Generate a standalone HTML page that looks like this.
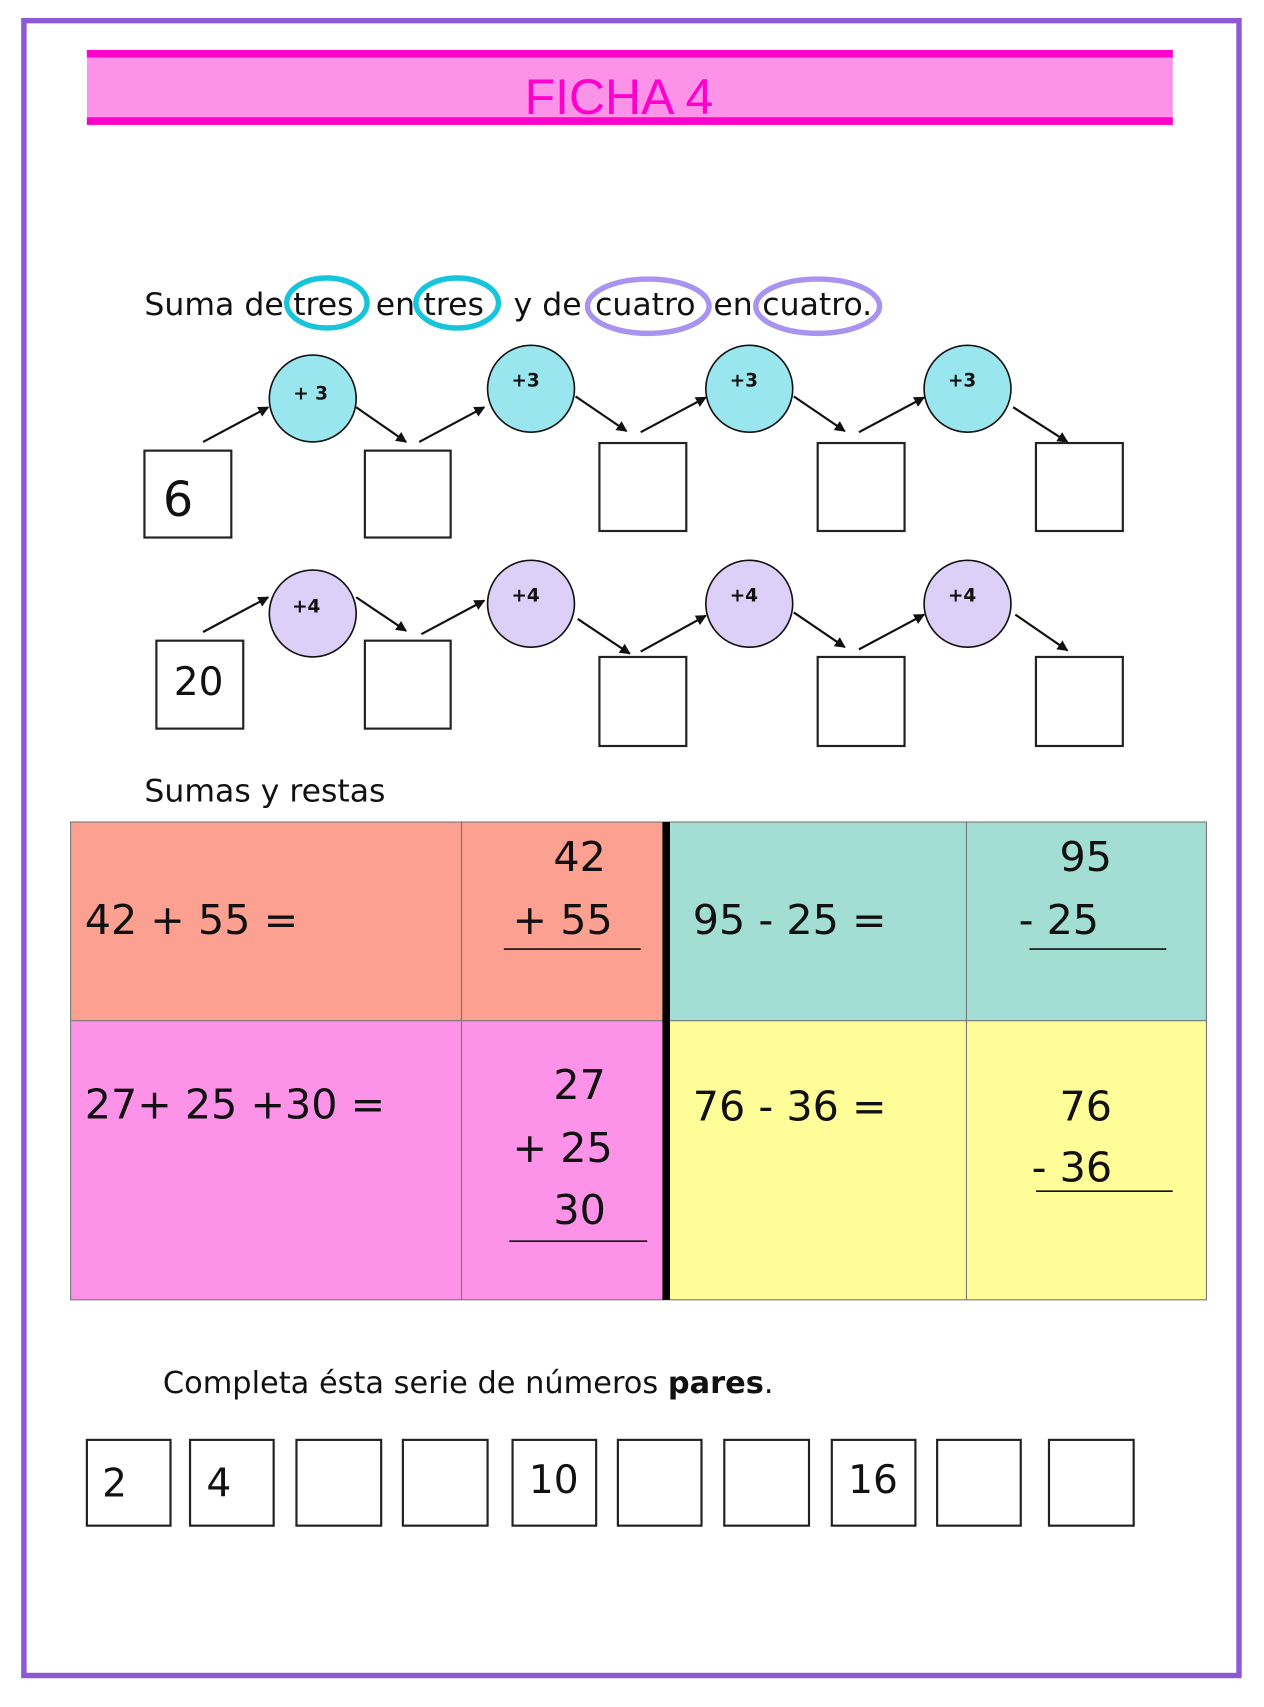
<!DOCTYPE html>
<html><head><meta charset="utf-8"><style>html,body{margin:0;padding:0;background:#fff}svg{display:block}</style></head>
<body>
<svg width="1264" height="1707" viewBox="0 0 1164 1572" xmlns="http://www.w3.org/2000/svg" font-family="'DejaVu Sans','Liberation Sans',sans-serif">
<defs><marker id="ah" markerWidth="10" markerHeight="10" refX="9" refY="5" orient="auto" markerUnits="userSpaceOnUse"><path d="M0,0 L10,5 L0,10 z" fill="#111"/></marker></defs>
<rect width="1164" height="1572" fill="#fff"/>
<rect x="22" y="19" width="1119" height="1524" fill="none" stroke="#8e59d4" stroke-width="5"/>
<rect x="80" y="46" width="1000" height="69" fill="#fd93e8"/>
<rect x="80" y="46" width="1000" height="7" fill="#ff00cc"/>
<rect x="80" y="108" width="1000" height="7" fill="#ff00cc"/>
<text x="570" y="105" font-size="46" fill="#ff00cc" text-anchor="middle" font-family="'Liberation Sans',sans-serif">FICHA 4</text>

<text x="133" y="290" font-size="29" fill="#111">Suma de <tspan x="270">tres</tspan><tspan x="346">en</tspan><tspan x="390">tres</tspan><tspan x="473">y de</tspan><tspan x="548">cuatro</tspan><tspan x="657">en</tspan><tspan x="702">cuatro.</tspan></text>
<g fill="none" stroke-width="5"><ellipse cx="301" cy="279" rx="37" ry="23" stroke="#16c4dc"/><ellipse cx="421" cy="279" rx="38" ry="23" stroke="#16c4dc"/><ellipse cx="597" cy="282" rx="56" ry="25" stroke="#a894f0"/><ellipse cx="753" cy="282" rx="57" ry="25" stroke="#a894f0"/></g>

<g stroke="#111" stroke-width="1.5">
<circle cx="288" cy="367" r="40" fill="#99e6ee"/><circle cx="489" cy="358" r="40" fill="#99e6ee"/><circle cx="690" cy="358" r="40" fill="#99e6ee"/><circle cx="891" cy="358" r="40" fill="#99e6ee"/>
<circle cx="288" cy="565" r="40" fill="#dcd0f8"/><circle cx="489" cy="556" r="40" fill="#dcd0f8"/><circle cx="690" cy="556" r="40" fill="#dcd0f8"/><circle cx="891" cy="556" r="40" fill="#dcd0f8"/>
</g>
<g font-size="17" font-weight="bold" fill="#111" text-anchor="middle">
<text x="286" y="368">+ 3</text><text x="484" y="356">+3</text><text x="685" y="356">+3</text><text x="886" y="356">+3</text>
<text x="282" y="564">+4</text><text x="484" y="554">+4</text><text x="685" y="554">+4</text><text x="886" y="554">+4</text>
</g>
<g fill="#fff" stroke="#222" stroke-width="2">
<rect x="133" y="415" width="80" height="80"/><rect x="336" y="415" width="79" height="80"/><rect x="552" y="408" width="80" height="81"/><rect x="753" y="408" width="80" height="81"/><rect x="954" y="408" width="80" height="81"/>
<rect x="144" y="590" width="80" height="81"/><rect x="336" y="590" width="79" height="81"/><rect x="552" y="605" width="80" height="82"/><rect x="753" y="605" width="80" height="82"/><rect x="954" y="605" width="80" height="82"/>
</g>
<g stroke="#111" stroke-width="2" marker-end="url(#ah)">
<line x1="187" y1="407" x2="247" y2="375"/><line x1="328" y1="375" x2="374" y2="407"/><line x1="386" y1="407" x2="446" y2="375"/><line x1="530" y1="365" x2="577" y2="397"/><line x1="590" y1="398" x2="650" y2="366"/><line x1="731" y1="365" x2="778" y2="397"/><line x1="791" y1="398" x2="851" y2="366"/><line x1="933" y1="375" x2="983" y2="407"/>
<line x1="187" y1="582" x2="247" y2="550"/><line x1="328" y1="550" x2="374" y2="581"/><line x1="388" y1="584" x2="446" y2="553"/><line x1="532" y1="570" x2="580" y2="602"/><line x1="590" y1="600" x2="650" y2="567"/><line x1="731" y1="564" x2="778" y2="596"/><line x1="791" y1="598" x2="851" y2="566"/><line x1="935" y1="566" x2="983" y2="599"/>
</g>
<text x="150" y="475" font-size="44" fill="#111">6</text>
<text x="160" y="640" font-size="36" fill="#111">20</text>

<text x="133" y="738" font-size="29" fill="#111">Sumas y restas</text>
<rect x="65" y="757" width="547" height="183" fill="#fca092"/>
<rect x="612" y="757" width="499" height="183" fill="#a2ded4"/>
<rect x="65" y="940" width="547" height="257" fill="#fd93e8"/>
<rect x="612" y="940" width="499" height="257" fill="#fffd98"/>
<g stroke="#777" stroke-width="1" fill="none"><rect x="65" y="757" width="1046" height="440"/><line x1="425" y1="757" x2="425" y2="1197"/><line x1="890" y1="757" x2="890" y2="1197"/><line x1="65" y1="940" x2="1111" y2="940"/></g>
<rect x="610" y="757" width="7" height="440" fill="#000"/>
<g font-size="38" fill="#111">
<text x="78" y="860">42 + 55 =</text><text x="558" y="802" text-anchor="end">42</text><text x="472" y="860">+ 55</text>
<text x="638" y="860">95 - 25 =</text><text x="1024" y="802" text-anchor="end">95</text><text x="938" y="860">-  25</text>
<text x="78" y="1030">27+ 25 +30 =</text><text x="558" y="1012" text-anchor="end">27</text><text x="472" y="1070">+ 25</text><text x="558" y="1127" text-anchor="end">30</text>
<text x="638" y="1032">76 - 36 =</text><text x="1024" y="1032" text-anchor="end">76</text><text x="950" y="1088">- 36</text>
</g>
<g stroke="#111" stroke-width="1.5"><line x1="464" y1="874" x2="590" y2="874"/><line x1="948" y1="874" x2="1074" y2="874"/><line x1="469" y1="1143" x2="596" y2="1143"/><line x1="954" y1="1097" x2="1080" y2="1097"/></g>

<text x="150" y="1283" font-size="28" fill="#111">Completa ésta serie de  números <tspan font-weight="bold">pares</tspan>.</text>
<g fill="#fff" stroke="#222" stroke-width="2">
<rect x="80" y="1326" width="77" height="79"/><rect x="175" y="1326" width="77" height="79"/><rect x="273" y="1326" width="78" height="79"/><rect x="371" y="1326" width="78" height="79"/><rect x="472" y="1326" width="77" height="79"/><rect x="569" y="1326" width="77" height="79"/><rect x="667" y="1326" width="78" height="79"/><rect x="766" y="1326" width="77" height="79"/><rect x="863" y="1326" width="77" height="79"/><rect x="966" y="1326" width="78" height="79"/>
</g>
<g font-size="36" fill="#111"><text x="94" y="1378">2</text><text x="190" y="1378">4</text><text x="487" y="1375">10</text><text x="781" y="1375">16</text></g>
</svg>
</body></html>
